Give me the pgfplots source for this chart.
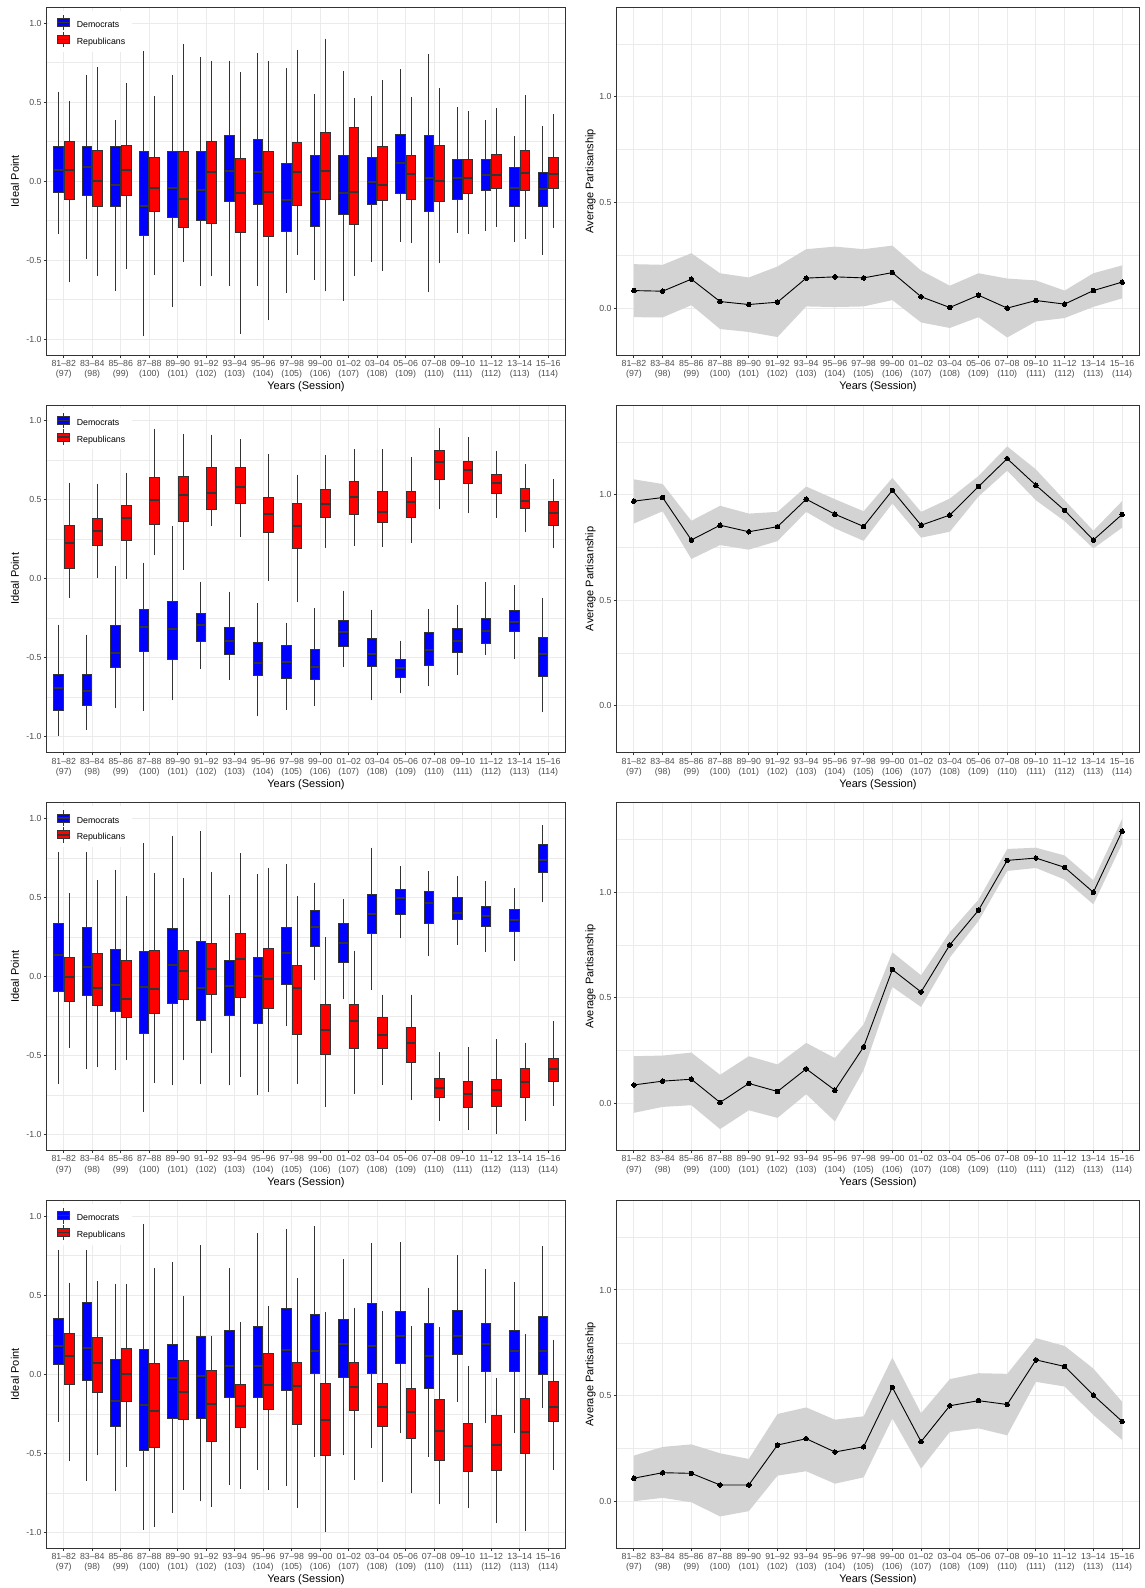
\documentclass[border=0pt]{standalone}
\usepackage{fontspec}
\setmainfont{Liberation Sans}
\usepackage{pgfplots}
\usepackage{pgfplotstable}
\pgfplotsset{compat=1.18}
\usepgfplotslibrary{statistics}

\definecolor{gray20}{HTML}{333333}
\definecolor{gray30}{HTML}{4D4D4D}
\definecolor{gray92}{HTML}{EBEBEB}
\definecolor{ribbon}{HTML}{D3D3D3}

% ideal points: whisker low, q1, median, q3, whisker high (D then R)
\pgfplotstableread{
x dlw dq1 dmed dq3 duw rlw rq1 rmed rq3 ruw
1 -0.334 -0.069 0.073 0.218 0.567 -0.640 -0.118 0.073 0.254 0.508
2 -0.493 -0.092 0.090 0.222 0.672 -0.598 -0.157 -0.002 0.197 0.720
3 -0.693 -0.162 -0.027 0.218 0.386 -0.556 -0.088 0.069 0.227 0.621
4 -0.982 -0.342 -0.155 0.191 0.823 -0.592 -0.193 -0.042 0.149 0.539
5 -0.797 -0.229 -0.044 0.185 0.669 -0.510 -0.296 -0.115 0.187 0.869
6 -0.665 -0.250 -0.057 0.191 0.783 -0.598 -0.269 0.057 0.250 0.760
7 -0.665 -0.126 0.065 0.292 0.762 -0.965 -0.325 -0.076 0.141 0.690
8 -0.665 -0.149 0.061 0.267 0.808 -0.881 -0.348 -0.067 0.191 0.760
9 -0.709 -0.317 -0.120 0.115 0.714 -0.466 -0.153 0.061 0.248 0.833
10 -0.627 -0.285 -0.067 0.160 0.550 -0.697 -0.113 0.065 0.311 0.902
11 -0.756 -0.208 -0.078 0.164 0.697 -0.598 -0.271 -0.071 0.340 0.525
12 -0.512 -0.149 -0.006 0.149 0.537 -0.567 -0.122 -0.023 0.222 0.638
13 -0.384 -0.078 0.118 0.296 0.707 -0.392 -0.113 0.048 0.162 0.533
14 -0.701 -0.193 0.021 0.288 0.804 -0.518 -0.126 0.000 0.229 0.590
15 -0.327 -0.118 0.017 0.139 0.468 -0.334 -0.080 0.021 0.139 0.445
16 -0.313 -0.061 0.036 0.139 0.388 -0.288 -0.044 0.036 0.170 0.460
17 -0.382 -0.157 -0.044 0.088 0.285 -0.363 -0.061 0.050 0.197 0.544
18 -0.466 -0.157 -0.052 0.055 0.350 -0.296 -0.048 0.044 0.153 0.422
}\tabA
\pgfplotstableread{
x dlw dq1 dmed dq3 duw rlw rq1 rmed rq3 ruw
1 -0.992 -0.832 -0.693 -0.607 -0.290 -0.118 0.063 0.229 0.338 0.607
2 -0.954 -0.803 -0.708 -0.607 -0.353 0.008 0.214 0.300 0.380 0.603
3 -0.819 -0.563 -0.466 -0.296 0.080 0.000 0.242 0.387 0.466 0.672
4 -0.834 -0.462 -0.305 -0.193 0.103 0.149 0.342 0.500 0.643 0.950
5 -0.769 -0.508 -0.315 -0.143 0.334 0.059 0.363 0.532 0.649 0.918
6 -0.569 -0.397 -0.290 -0.218 -0.017 0.332 0.437 0.546 0.702 0.912
7 -0.637 -0.479 -0.391 -0.305 -0.080 0.265 0.479 0.580 0.704 0.884
8 -0.870 -0.609 -0.532 -0.403 -0.155 -0.011 0.294 0.408 0.515 0.788
9 -0.828 -0.628 -0.523 -0.420 -0.279 -0.149 0.195 0.336 0.477 0.660
10 -0.805 -0.634 -0.555 -0.447 -0.185 0.195 0.391 0.475 0.567 0.784
11 -0.559 -0.429 -0.338 -0.261 -0.074 0.208 0.405 0.517 0.616 0.819
12 -0.769 -0.557 -0.475 -0.376 -0.195 0.202 0.357 0.426 0.550 0.819
13 -0.725 -0.622 -0.567 -0.513 -0.391 0.227 0.391 0.487 0.550 0.769
14 -0.681 -0.546 -0.447 -0.338 -0.191 0.439 0.626 0.739 0.813 0.956
15 -0.609 -0.468 -0.393 -0.311 -0.164 0.414 0.603 0.687 0.744 0.895
16 -0.483 -0.408 -0.330 -0.250 -0.023 0.387 0.538 0.607 0.658 0.811
17 -0.506 -0.330 -0.275 -0.200 -0.040 0.294 0.447 0.494 0.571 0.727
18 -0.845 -0.618 -0.477 -0.372 -0.118 0.193 0.340 0.418 0.492 0.632
}\tabB
\pgfplotstableread{
x dlw dq1 dmed dq3 duw rlw rq1 rmed rq3 ruw
1 -0.679 -0.095 0.137 0.339 0.789 -0.452 -0.156 -0.004 0.120 0.526
2 -0.587 -0.118 0.059 0.313 0.789 -0.574 -0.181 -0.074 0.149 0.610
3 -0.593 -0.223 -0.053 0.172 0.675 -0.528 -0.259 -0.141 0.099 0.511
4 -0.856 -0.358 -0.069 0.158 0.843 -0.673 -0.236 -0.078 0.166 0.656
5 -0.688 -0.168 0.074 0.305 0.890 -0.530 -0.147 0.036 0.168 0.625
6 -0.681 -0.278 -0.074 0.221 0.919 -0.484 -0.116 0.050 0.212 0.660
7 -0.688 -0.248 -0.057 0.099 0.515 -0.633 -0.135 0.114 0.275 0.780
8 -0.747 -0.299 0.006 0.124 0.648 -0.730 -0.202 -0.015 0.179 0.688
9 -0.315 -0.050 0.147 0.313 0.711 -0.679 -0.368 -0.074 0.072 0.511
10 -0.021 0.189 0.311 0.416 0.595 -0.824 -0.492 -0.341 -0.179 0.250
11 -0.145 0.088 0.212 0.334 0.488 -0.740 -0.452 -0.284 -0.177 0.164
12 -0.084 0.271 0.393 0.519 0.816 -0.683 -0.456 -0.370 -0.257 -0.114
13 0.242 0.395 0.494 0.553 0.698 -0.780 -0.543 -0.421 -0.324 -0.114
14 0.130 0.337 0.467 0.538 0.669 -0.915 -0.765 -0.702 -0.645 -0.479
15 0.200 0.360 0.404 0.498 0.635 -0.970 -0.831 -0.740 -0.662 -0.446
16 0.158 0.320 0.381 0.446 0.604 -0.993 -0.822 -0.715 -0.648 -0.397
17 0.097 0.286 0.358 0.425 0.559 -0.911 -0.768 -0.669 -0.583 -0.418
18 0.469 0.656 0.738 0.839 0.957 -0.820 -0.665 -0.583 -0.515 -0.284
}\tabC
\pgfplotstableread{
x dlw dq1 dmed dq3 duw rlw rq1 rmed rq3 ruw
1 -0.300 0.059 0.181 0.355 0.786 -0.548 -0.067 0.116 0.256 0.580
2 -0.674 -0.038 0.168 0.454 0.786 -0.513 -0.118 0.069 0.233 0.590
3 -0.739 -0.332 -0.170 0.092 0.571 -0.586 -0.170 0.000 0.164 0.571
4 -0.983 -0.485 -0.195 0.160 0.952 -0.964 -0.460 -0.235 0.069 0.672
5 -0.878 -0.282 -0.021 0.189 0.710 -0.731 -0.288 -0.111 0.088 0.494
6 -0.805 -0.277 -0.008 0.242 0.815 -0.838 -0.424 -0.185 0.021 0.244
7 -0.700 -0.147 0.050 0.275 0.670 -0.723 -0.338 -0.202 -0.063 0.332
8 -0.605 -0.147 0.050 0.305 0.891 -0.731 -0.225 -0.071 0.132 0.433
9 -0.704 -0.101 0.151 0.414 0.916 -0.845 -0.319 -0.076 0.074 0.609
10 -0.523 0.004 0.149 0.380 0.937 -0.996 -0.513 -0.290 -0.055 0.397
11 -0.513 -0.021 0.189 0.347 0.727 -0.670 -0.227 -0.078 0.076 0.422
12 -0.466 0.004 0.176 0.450 0.828 -0.683 -0.330 -0.204 -0.061 0.401
13 -0.374 0.071 0.242 0.397 0.836 -0.754 -0.405 -0.239 -0.088 0.303
14 -0.521 -0.092 0.116 0.324 0.548 -0.824 -0.544 -0.357 -0.160 0.300
15 -0.176 0.128 0.242 0.405 0.756 -0.845 -0.618 -0.454 -0.313 0.055
16 -0.311 0.015 0.189 0.324 0.664 -0.943 -0.611 -0.447 -0.263 -0.021
17 -0.372 0.017 0.149 0.279 0.582 -0.989 -0.500 -0.366 -0.153 0.254
18 -0.214 0.002 0.149 0.368 0.809 -0.603 -0.296 -0.208 -0.046 0.218
}\tabD

% average partisanship: estimate and band
\pgfplotstableread{
x m lo hi
1 0.083 -0.043 0.208
2 0.080 -0.044 0.205
3 0.137 0.014 0.260
4 0.031 -0.099 0.165
5 0.017 -0.113 0.145
6 0.028 -0.137 0.197
7 0.142 0.008 0.279
8 0.148 0.005 0.291
9 0.143 0.008 0.279
10 0.168 0.038 0.296
11 0.054 -0.068 0.178
12 0.003 -0.094 0.106
13 0.061 -0.043 0.165
14 0.000 -0.139 0.140
15 0.036 -0.063 0.131
16 0.019 -0.047 0.083
17 0.083 0.006 0.165
18 0.123 0.046 0.202
}\tabRA
\pgfplotstableread{
x m lo hi
1 0.969 0.863 1.072
2 0.986 0.921 1.050
3 0.785 0.695 0.876
4 0.855 0.761 0.947
5 0.824 0.739 0.910
6 0.848 0.780 0.918
7 0.978 0.918 1.038
8 0.907 0.840 0.978
9 0.849 0.781 0.921
10 1.020 0.958 1.079
11 0.855 0.796 0.918
12 0.903 0.824 0.981
13 1.038 0.991 1.088
14 1.170 1.113 1.228
15 1.044 0.973 1.119
16 0.925 0.874 0.973
17 0.785 0.745 0.829
18 0.906 0.843 0.969
}\tabRB
\pgfplotstableread{
x m lo hi
1 0.088 -0.044 0.224
2 0.106 -0.016 0.227
3 0.115 -0.008 0.241
4 0.005 -0.121 0.136
5 0.095 -0.032 0.224
6 0.057 -0.068 0.185
7 0.164 0.044 0.287
8 0.063 -0.085 0.215
9 0.268 0.158 0.375
10 0.634 0.552 0.716
11 0.528 0.457 0.607
12 0.751 0.691 0.811
13 0.915 0.864 0.965
14 1.151 1.101 1.205
15 1.162 1.115 1.211
16 1.118 1.060 1.174
17 1.000 0.943 1.057
18 1.289 1.230 1.347
}\tabRC
\pgfplotstableread{
x m lo hi
1 0.109 0.000 0.216
2 0.135 0.016 0.257
3 0.132 -0.005 0.269
4 0.077 -0.072 0.227
5 0.077 -0.047 0.200
6 0.266 0.121 0.413
7 0.296 0.142 0.444
8 0.233 0.083 0.386
9 0.258 0.113 0.402
10 0.539 0.392 0.680
11 0.282 0.154 0.417
12 0.452 0.328 0.578
13 0.476 0.345 0.606
14 0.458 0.312 0.603
15 0.669 0.565 0.772
16 0.638 0.543 0.735
17 0.502 0.408 0.628
18 0.378 0.290 0.471
}\tabRD

\pgfplotsset{
  gg/.style={
    scale only axis, height=347.7pt,
    xmin=0.4, xmax=18.6,
    xtick={1,...,18},
    xticklabels={{81–82\\(97)},{83–84\\(98)},{85–86\\(99)},{87–88\\(100)},{89–90\\(101)},{91–92\\(102)},{93–94\\(103)},{95–96\\(104)},{97–98\\(105)},{99–00\\(106)},{01–02\\(107)},{03–04\\(108)},{05–06\\(109)},{07–08\\(110)},{09–10\\(111)},{11–12\\(112)},{13–14\\(113)},{15–16\\(114)}},
    axis line style={gray20, line width=1pt},
    xmajorgrids, ymajorgrids, yminorgrids,
    major grid style={gray92, line width=1pt},
    minor grid style={gray92, line width=0.5pt},
    tick align=outside, tick pos=left,
    major tick length=2.75pt, minor tick length=0pt,
    tick style={gray20, line width=1pt},
    xticklabel style={align=center, text=gray30, font=\fontsize{8.8}{10.5}\selectfont, inner sep=0pt, yshift=-2.2pt},
    yticklabel style={text=gray30, font=\fontsize{8.8}{10.5}\selectfont, inner sep=0pt, xshift=-2.2pt},
    xlabel={Years (Session)},
    xlabel style={font=\fontsize{11}{13}\selectfont, at={(axis description cs:0.5,0)}, anchor=center, yshift=-32pt},
    ylabel style={font=\fontsize{11}{13}\selectfont, anchor=center},
  },
  ggleft/.style={gg, width=518.6pt,
    ymin=-1.1, ymax=1.1,
    ytick={-1,-0.5,0,0.5,1}, yticklabels={-1.0,-0.5,0.0,0.5,1.0},
    minor ytick={-0.75,-0.25,0.25,0.75},
    ylabel={Ideal Point},
    ylabel style={at={(axis description cs:0,0.5)}, yshift=31.7pt},
    legend style={at={(axis description cs:0,1)}, anchor=north west,
      xshift=2.5pt, yshift=-3pt, draw=none, fill=white,
      font=\fontsize{8.8}{10.5}\selectfont,
      inner xsep=7pt, inner ysep=4pt, column sep=7pt, row sep=0.5pt,
      nodes={inner sep=0pt, text height=6.5pt, text depth=1.8pt}},
    legend cell align=left,
  },
  ggright/.style={gg, width=522.6pt,
    ymin=-0.222, ymax=1.424,
    ytick={0,0.5,1}, yticklabels={0.0,0.5,1.0},
    minor ytick={0.25,0.75,1.25},
    ylabel={Average Partisanship},
    ylabel style={at={(axis description cs:0,0.5)}, yshift=26.2pt},
  },
  boxbase/.style={boxplot/draw direction=y, draw=gray20, line width=0.9pt,
    boxplot/whisker extend=0, boxplot/box extend=0.34,
    boxplot/every median/.style={line width=2pt, draw=gray20}},
  dbox/.style={boxbase, fill=blue},
  rbox/.style={boxbase, fill=red},
  legD/.style={legend image code/.code={
    \draw[gray20, line width=0.8pt] (6pt,-5pt) -- (6pt,10.5pt);
    \draw[fill=blue, draw=gray20, line width=0.8pt] (0pt,-1.2pt) rectangle (12pt,6.8pt);
    \draw[gray20, line width=1.4pt] (0pt,2.8pt) -- (12pt,2.8pt);}},
  legR/.style={legend image code/.code={
    \draw[gray20, line width=0.8pt] (6pt,-5pt) -- (6pt,10.5pt);
    \draw[fill=red, draw=gray20, line width=0.8pt] (0pt,-1.2pt) rectangle (12pt,6.8pt);
    \draw[gray20, line width=1.4pt] (0pt,2.8pt) -- (12pt,2.8pt);}},
}

\newcommand\drawboxes[1]{%
  \pgfplotsforeachungrouped \rr in {0,...,17}{%
    \pgfplotstablegetelem{\rr}{x}\of#1\let\bx\pgfplotsretval
    \pgfplotstablegetelem{\rr}{dlw}\of#1\let\va\pgfplotsretval
    \pgfplotstablegetelem{\rr}{dq1}\of#1\let\vb\pgfplotsretval
    \pgfplotstablegetelem{\rr}{dmed}\of#1\let\vc\pgfplotsretval
    \pgfplotstablegetelem{\rr}{dq3}\of#1\let\vd\pgfplotsretval
    \pgfplotstablegetelem{\rr}{duw}\of#1\let\ve\pgfplotsretval
    \pgfmathsetmacro\pd{\bx-0.1875}%
    \edef\tmp{\noexpand\addplot[dbox, forget plot, boxplot prepared={draw position=\pd, lower whisker=\va, lower quartile=\vb, median=\vc, upper quartile=\vd, upper whisker=\ve}] coordinates {};}%
    \tmp
    \pgfplotstablegetelem{\rr}{rlw}\of#1\let\va\pgfplotsretval
    \pgfplotstablegetelem{\rr}{rq1}\of#1\let\vb\pgfplotsretval
    \pgfplotstablegetelem{\rr}{rmed}\of#1\let\vc\pgfplotsretval
    \pgfplotstablegetelem{\rr}{rq3}\of#1\let\vd\pgfplotsretval
    \pgfplotstablegetelem{\rr}{ruw}\of#1\let\ve\pgfplotsretval
    \pgfmathsetmacro\pd{\bx+0.1875}%
    \edef\tmp{\noexpand\addplot[rbox, forget plot, boxplot prepared={draw position=\pd, lower whisker=\va, lower quartile=\vb, median=\vc, upper quartile=\vd, upper whisker=\ve}] coordinates {};}%
    \tmp
  }%
}

\newcommand\leftpanel[2]{%
  \begin{axis}[ggleft, at={(46.7pt,#1)}, anchor=north west]
    \drawboxes{#2}
    \addlegendimage{legD}\addlegendentry{Democrats}
    \addlegendimage{legR}\addlegendentry{Republicans}
  \end{axis}}

\newcommand\rightpanel[2]{%
  \begin{axis}[ggright, at={(616.7pt,#1)}, anchor=north west]
    \addplot[draw=none, forget plot, stack plots=y] table[x=x, y=lo] {#2};
    \addplot[fill=ribbon, draw=none, forget plot, stack plots=y]
      table[x=x, y expr=\thisrow{hi}-\thisrow{lo}] {#2} \closedcycle;
    \addplot[stack plots=false, black, line width=0.9pt, mark=*, mark size=2.3pt,
      mark options={fill=black, draw=black, line width=0pt}] table[x=x, y=m] {#2};
  \end{axis}}

\begin{document}
\begin{tikzpicture}
\path[use as bounding box] (0pt,0pt) rectangle (1145pt,-1588pt);
\leftpanel{-7.3pt}{\tabA}
\rightpanel{-7.3pt}{\tabRA}
\leftpanel{-405.0pt}{\tabB}
\rightpanel{-405.0pt}{\tabRB}
\leftpanel{-802.7pt}{\tabC}
\rightpanel{-802.7pt}{\tabRC}
\leftpanel{-1200.4pt}{\tabD}
\rightpanel{-1200.4pt}{\tabRD}
\end{tikzpicture}
\end{document}
